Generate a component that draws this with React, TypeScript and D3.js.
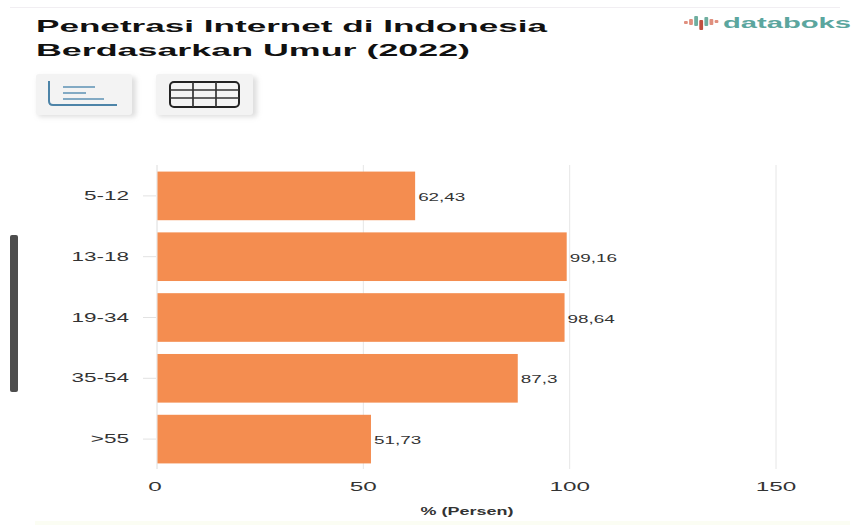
import React from "react";
import * as d3 from "d3";

const ageGroups = ["5-12", "13-18", "19-34", "35-54", ">55"];
const penetration = [62.43, 99.16, 98.64, 87.3, 51.73];
const valueLabels = ["62,43", "99,16", "98,64", "87,3", "51,73"];
const xTicks = [0, 50, 100, 150];
const titleLines = ["Penetrasi Internet di Indonesia", "Berdasarkan Umur (2022)"];

// Brand mark: [top, bottom, colour] of each small bar, relative to the mark's origin
const logoBars: [number, number, string][] = [
  [5, 8, "#e08f7e"],
  [3, 9, "#e08f7e"],
  [0, 10, "#6fae9f"],
  [4, 14, "#c0503f"],
  [1, 10, "#6fae9f"],
  [3, 9, "#e08f7e"],
  [4, 7, "#e08f7e"],
];

const WIDTH = 852;
const HEIGHT = 525;
const FONT = "'Liberation Sans', Arial, sans-serif";
const STRETCH = 1.8;

const x = d3.scaleLinear().domain([0, 150]).range([157, 776]);
const y = d3.scaleBand<string>().domain(ageGroups).range([165.5, 469.5]).paddingInner(0.2).paddingOuter(0.1);

// Horizontally widened text, anchored at (tx, ty)
function Wide(props: { tx: number; ty: number; size: number; anchor?: string; bold?: boolean; children: React.ReactNode }) {
  const { tx, ty, size, anchor = "start", bold, children } = props;
  return (
    <text
      transform={`translate(${tx},${ty}) scale(${STRETCH},1)`}
      textAnchor={anchor}
      fontSize={size}
      fontWeight={bold ? 700 : 400}
      fill="#333"
    >
      {children}
    </text>
  );
}

export default function App() {
  return (
    <svg
      width={WIDTH}
      height={HEIGHT}
      viewBox={`0 0 ${WIDTH} ${HEIGHT}`}
      style={{ position: "absolute", left: 0, top: 0, background: "#fff", fontFamily: FONT }}
    >
      <defs>
        <filter id="btnShadow" x="-20%" y="-20%" width="140%" height="140%">
          <feGaussianBlur stdDeviation="2.5" />
        </filter>
      </defs>

      {/* page chrome */}
      <rect x={10} y={7} width={830} height={1} fill="#f1eef2" />
      <rect x={10} y={235} width={8} height={157} rx={2} fill="#4d4d4d" />
      <rect x={35} y={521} width={815} height={4} fill="#fbfdf3" />

      {/* heading */}
      <text x={36} y={31.5} fontSize={17} fontWeight={700} fill="#111" textLength={511} lengthAdjust="spacingAndGlyphs">
        {titleLines[0]}
      </text>
      <text x={36} y={56} fontSize={17} fontWeight={700} fill="#111" textLength={434} lengthAdjust="spacingAndGlyphs">
        {titleLines[1]}
      </text>

      {/* brand mark */}
      <g transform="translate(684,16)">
        {logoBars.map(([top, bottom, colour], i) => (
          <rect key={i} x={i * 5.1} y={top} width={3.8} height={bottom - top} rx={1} fill={colour} />
        ))}
      </g>
      <text x={723} y={28} fontSize={14.5} fontWeight={700} fill="#5ba69e" textLength={128} lengthAdjust="spacingAndGlyphs">
        databoks
      </text>

      {/* view switch buttons */}
      <rect x={38} y={77} width={98} height={40} rx={3} fill="#bdbdbd" opacity={0.5} filter="url(#btnShadow)" />
      <rect x={36} y={74} width={96} height={41} rx={3} fill="#f3f3f3" />
      <path d="M49,81 V101 Q49,105 53,105 H117" fill="none" stroke="#4d84a8" strokeWidth={2} />
      <path d="M63,87 H95 M63,93 H86 M63,99 H104" fill="none" stroke="#5d93b5" strokeWidth={1.6} />
      <rect x={158} y={77} width={99} height={40} rx={3} fill="#bdbdbd" opacity={0.5} filter="url(#btnShadow)" />
      <rect x={156} y={74} width={97} height={41} rx={3} fill="#f3f3f3" />
      <rect x={170} y={82} width={69} height={25} rx={4} fill="none" stroke="#222" strokeWidth={2} />
      <path d="M170,90 H239 M170,98 H239 M193,82 V107 M216,82 V107" fill="none" stroke="#333" strokeWidth={1.7} />

      {/* grid */}
      {xTicks.map((t) => (
        <line key={t} x1={x(t)} x2={x(t)} y1={165} y2={469} stroke={t === 0 ? "#dcdcdc" : "#e6e6e6"} strokeWidth={1} />
      ))}

      {/* bars */}
      {ageGroups.map((g, i) => (
        <rect
          key={g}
          x={x(0) + 0.5}
          y={y(g)}
          width={x(penetration[i]) - x(0)}
          height={y.bandwidth()}
          fill="#f48d50"
        />
      ))}

      {/* category axis */}
      {ageGroups.map((g) => {
        const cy = (y(g) as number) + y.bandwidth() / 2;
        return (
          <g key={g}>
            <line x1={143} x2={156} y1={cy} y2={cy} stroke="#e2e2e2" />
            <Wide tx={129} ty={cy + 4} size={12.5} anchor="end">
              {g}
            </Wide>
          </g>
        );
      })}

      {/* value labels */}
      {ageGroups.map((g, i) => {
        const cy = (y(g) as number) + y.bandwidth() / 2;
        return (
          <Wide key={g} tx={x(penetration[i]) + 3.5} ty={cy + 5} size={10.5}>
            {valueLabels[i]}
          </Wide>
        );
      })}

      {/* value axis */}
      {xTicks.map((t) => (
        <Wide key={t} tx={x(t) - (t === 0 ? 2 : 0)} ty={491} size={13.5} anchor="middle">
          {t}
        </Wide>
      ))}
      <Wide tx={467} ty={515} size={10} anchor="middle" bold>
        % (Persen)
      </Wide>
    </svg>
  );
}
